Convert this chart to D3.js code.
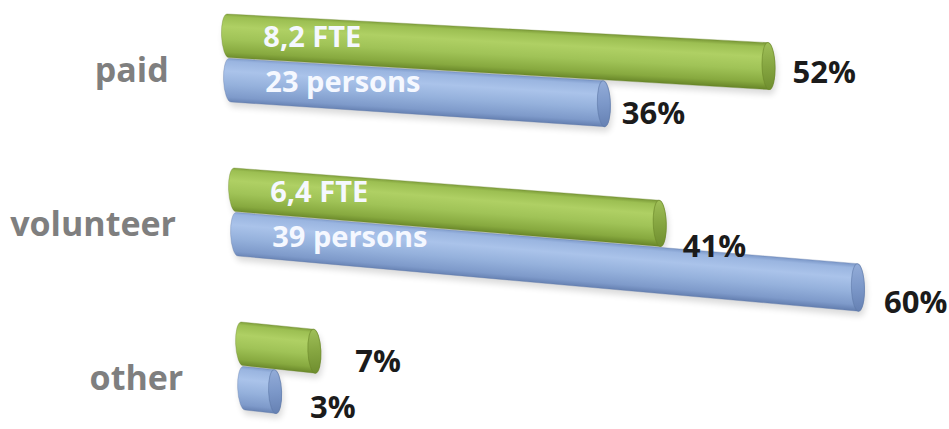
<!DOCTYPE html>
<html>
<head>
<meta charset="utf-8">
<script src="https://cdn.jsdelivr.net/npm/d3@7"></script>
<style>
  html, body { margin: 0; padding: 0; background: #ffffff; }
  svg { display: block; }
  text { font-family: "Open Sans", "DejaVu Sans", sans-serif; font-weight: 700; }
</style>
</head>
<body>
<svg id="chart" width="949" height="429"></svg>
<script>
// ---- data -------------------------------------------------------------
const categories   = ["paid", "volunteer", "other"];
const seriesNames  = ["FTE", "persons"];
const fteShare     = [52, 41, 7];     // share of FTE, %
const personShare  = [36, 60, 3];     // share of persons, %
const fteLabels    = ["8,2 FTE", "6,4 FTE", ""];
const personLabels = ["23 persons", "39 persons", ""];
const valueMax     = 60;

// ---- layout -----------------------------------------------------------
const width = 949, height = 429;
// corners of the tilted value/depth plane on screen
const plane = { w0: 14, w1: 385, tl: [227, 14], tr: [851, 47], bl: [244, 385], br: [862.7, 452] };
const capRx = 6.5;
// per-bar offsets of the percentage labels from the end cap
const fteLabelNudge    = [[24, 6], [23, 23], [41, 10]];
const personLabelNudge = [[18, 9], [26, 14], [35, 15]];

const palettes = {
  FTE: {
    body: [[0, "#7d9c3a"], [0.08, "#9cbf52"], [0.3, "#afd064"], [0.58, "#a0c357"], [0.86, "#87a93f"], [1, "#6a882a"]],
    cap:  [[0, "#9fbf58"], [0.5, "#86a641"], [1, "#6f8e2f"]],
    edge: "#6a8729"
  },
  persons: {
    body: [[0, "#7f9bcb"], [0.08, "#9ab5e0"], [0.3, "#aac3ea"], [0.6, "#95b1dc"], [0.88, "#7e9aca"], [1, "#6681b2"]],
    cap:  [[0, "#93acd8"], [0.5, "#7c98c9"], [1, "#6681b3"]],
    edge: "#5f79a8"
  }
};

const svg = d3.select("#chart");
const defs = svg.append("defs");

const valueScale = d3.scaleLinear().domain([0, valueMax]).range([0, 1]);
const rowScale = d3.scaleBand().domain(categories).range([14, 410])
  .paddingInner(0.4286).paddingOuter(0);
const subScale = d3.scaleBand().domain(seriesNames)
  .range([0, rowScale.bandwidth()]).paddingInner(0.02);

// map (value, depth) on the plane to screen coordinates
function project(value, w) {
  const s = valueScale(value), t = (w - plane.w0) / (plane.w1 - plane.w0);
  const top = [plane.tl[0] + s * (plane.tr[0] - plane.tl[0]), plane.tl[1] + s * (plane.tr[1] - plane.tl[1])];
  const bot = [plane.bl[0] + s * (plane.br[0] - plane.bl[0]), plane.bl[1] + s * (plane.br[1] - plane.bl[1])];
  return [top[0] + t * (bot[0] - top[0]), top[1] + t * (bot[1] - top[1])];
}

function ellipseThrough(a, b) {
  const dx = b[0] - a[0], dy = b[1] - a[1];
  return {
    cx: (a[0] + b[0]) / 2, cy: (a[1] + b[1]) / 2,
    ry: Math.hypot(dx, dy) / 2,
    rot: Math.atan2(dy, dx) * 180 / Math.PI - 90
  };
}

// soft drop shadow
defs.append("filter").attr("id", "shadowBlur")
  .attr("x", "-20%").attr("y", "-40%").attr("width", "140%").attr("height", "180%")
  .append("feGaussianBlur").attr("stdDeviation", 3);

const bars = [];
categories.forEach((cat, i) => {
  bars.push({ cat, series: "FTE", value: fteShare[i], inner: fteLabels[i], nudge: fteLabelNudge[i] });
  bars.push({ cat, series: "persons", value: personShare[i], inner: personLabels[i], nudge: personLabelNudge[i] });
});

bars.forEach((b, k) => {
  b.wTop = rowScale(b.cat) + subScale(b.series);
  b.wBot = b.wTop + subScale.bandwidth();
  b.wMid = (b.wTop + b.wBot) / 2;
  const p0 = project(0, b.wTop), p1 = project(0, b.wBot);
  const p2 = project(b.value, b.wBot), p3 = project(b.value, b.wTop);
  const L = ellipseThrough(p0, p1), R = ellipseThrough(p3, p2);
  b.cap = R;
  b.path = `M${p0[0]},${p0[1]} A${capRx},${L.ry} ${L.rot} 0 0 ${p1[0]},${p1[1]} ` +
           `L${p2[0]},${p2[1]} A${capRx},${R.ry} ${R.rot} 0 0 ${p3[0]},${p3[1]} Z`;

  // shading across the cylinder, perpendicular to its axis
  const a0 = project(0, b.wMid), a1 = project(b.value, b.wMid);
  let dx = a1[0] - a0[0], dy = a1[1] - a0[1];
  const len = Math.hypot(dx, dy) || 1; dx /= len; dy /= len;
  const n = [-dy, dx];
  const mid = project(b.value / 2, b.wMid);
  const h = Math.hypot(project(b.value / 2, b.wBot)[0] - project(b.value / 2, b.wTop)[0],
                       project(b.value / 2, b.wBot)[1] - project(b.value / 2, b.wTop)[1]) / 2;
  const pal = palettes[b.series];
  const gid = "body" + k;
  const g = defs.append("linearGradient").attr("id", gid).attr("gradientUnits", "userSpaceOnUse")
    .attr("x1", mid[0] - n[0] * h).attr("y1", mid[1] - n[1] * h)
    .attr("x2", mid[0] + n[0] * h).attr("y2", mid[1] + n[1] * h);
  pal.body.forEach(([o, c]) => g.append("stop").attr("offset", o).attr("stop-color", c));
  b.bodyFill = `url(#${gid})`;

  const cid = "cap" + k;
  const cg = defs.append("linearGradient").attr("id", cid).attr("gradientUnits", "userSpaceOnUse")
    .attr("x1", p3[0]).attr("y1", p3[1]).attr("x2", p2[0]).attr("y2", p2[1]);
  pal.cap.forEach(([o, c]) => cg.append("stop").attr("offset", o).attr("stop-color", c));
  b.capFill = `url(#${cid})`;
});

// shadows first
svg.append("g").selectAll("path").data(bars).join("path")
  .attr("d", d => d.path)
  .attr("transform", "translate(2,5)")
  .attr("fill", "#000").attr("opacity", 0.14)
  .attr("filter", "url(#shadowBlur)");

// cylinders: lower (persons) bar first so the upper one sits on it
const order = bars.slice().sort((a, b) =>
  d3.ascending(categories.indexOf(a.cat), categories.indexOf(b.cat)) ||
  (a.series === "persons" ? -1 : 1));

const cyl = svg.append("g").selectAll("g").data(order).join("g");
cyl.append("path")
  .attr("d", d => d.path)
  .attr("fill", d => d.bodyFill)
  .attr("stroke", d => palettes[d.series].edge)
  .attr("stroke-opacity", 0.45).attr("stroke-width", 0.8);
cyl.append("ellipse")
  .attr("cx", d => d.cap.cx).attr("cy", d => d.cap.cy)
  .attr("rx", capRx).attr("ry", d => d.cap.ry)
  .attr("transform", d => `rotate(${d.cap.rot},${d.cap.cx},${d.cap.cy})`)
  .attr("fill", d => d.capFill)
  .attr("stroke", d => palettes[d.series].edge)
  .attr("stroke-opacity", 0.6).attr("stroke-width", 1);

// labels inside the bars
svg.append("g").selectAll("text").data(bars.filter(d => d.inner)).join("text")
  .attr("x", d => project(3.4, d.wMid)[0])
  .attr("y", d => project(3.4, d.wMid)[1])
  .attr("dy", "0.32em")
  .attr("font-size", 29)
  .attr("fill", "#f5f8ff")
  .text(d => d.inner);

// percentage labels at the bar ends
svg.append("g").selectAll("text").data(bars).join("text")
  .attr("x", d => d.cap.cx + d.nudge[0])
  .attr("y", d => d.cap.cy + d.nudge[1])
  .attr("dy", "0.36em")
  .attr("font-size", 31)
  .attr("fill", "#1b1b1b")
  .text(d => d.value + "%");

// category axis labels
svg.append("g").selectAll("text").data(categories).join("text")
  .attr("x", c => project(-5.8, rowScale(c) + rowScale.bandwidth() / 2)[0])
  .attr("y", c => rowScale(c) + rowScale.bandwidth() / 2 + 24)
  .attr("text-anchor", "end")
  .attr("font-size", 34)
  .attr("fill", "#7f7f7f")
  .text(c => c);
</script>
</body>
</html>
